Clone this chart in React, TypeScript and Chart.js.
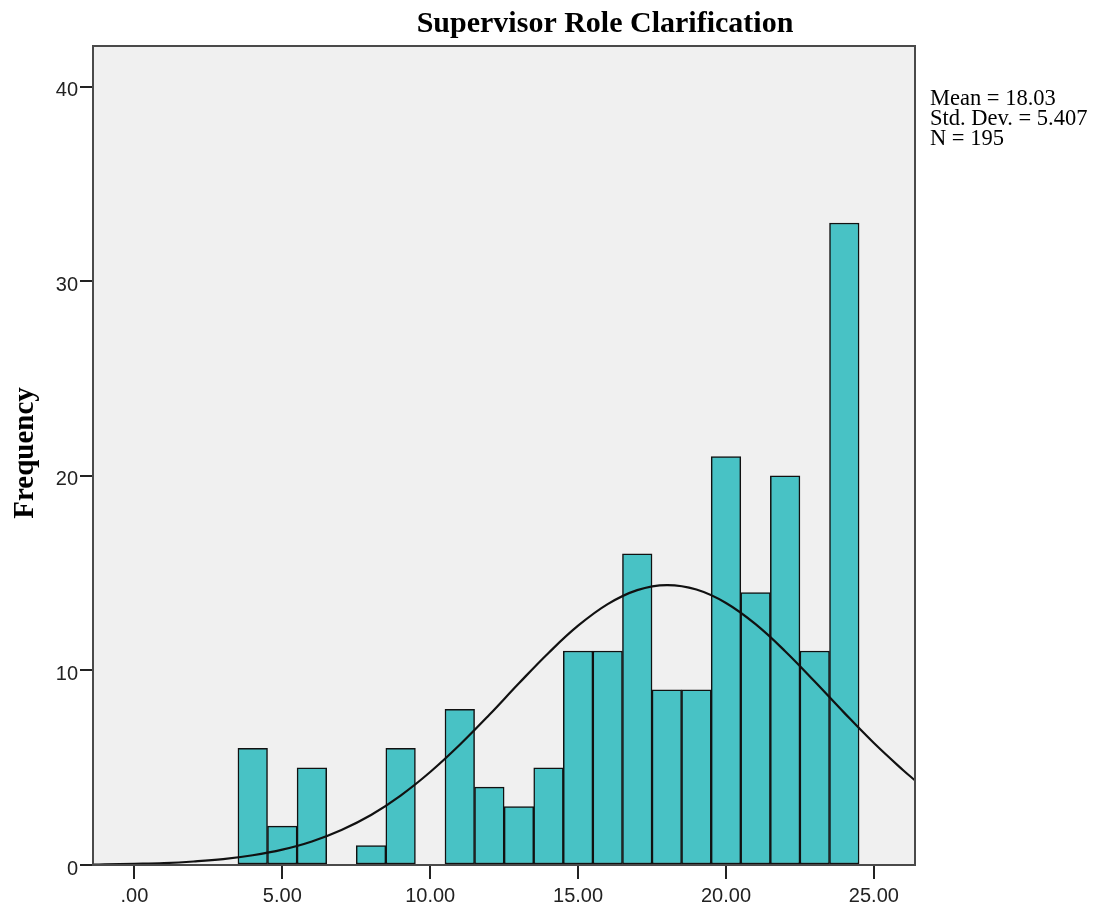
import React, { useEffect, useRef } from "react";
import { Chart, registerables } from "chart.js";

Chart.register(...registerables);

const TITLE = "Supervisor Role Clarification";
const Y_LABEL = "Frequency";
const STATS_LINES = ["Mean = 18.03", "Std. Dev. = 5.407", "N = 195"];

// Histogram bins (bin centres) and counts
const BIN_CENTERS = [4, 5, 6, 7, 8, 9, 10, 11, 12, 13, 14, 15, 16, 17, 18, 19, 20, 21, 22, 23, 24];
const BIN_COUNTS = [6, 2, 5, 0, 1, 6, 0, 8, 4, 3, 5, 11, 11, 16, 9, 9, 21, 14, 20, 11, 33];

// Normal curve points
const CURVE_X = [-1.4, -1, 0, 1, 2, 3, 4, 5, 6, 7, 8, 9, 10, 11, 12, 13, 14, 15, 16, 17, 18, 19, 20, 21, 22, 23, 24, 25, 26, 26.39];
const CURVE_Y = [0.02, 0.03, 0.06, 0.1, 0.18, 0.3, 0.5, 0.79, 1.21, 1.8, 2.57, 3.57, 4.78, 6.18, 7.72, 9.34, 10.9, 12.3, 13.41, 14.13, 14.39, 14.16, 13.47, 12.38, 10.99, 9.43, 7.82, 6.27, 4.86, 4.35];

const X_TICKS = [0, 5, 10, 15, 20, 25];
const Y_TICKS = [0, 10, 20, 30, 40];
const X_MIN = -1.4;
const X_MAX = 26.39;
const Y_MIN = 0;
const Y_MAX = 42.1;

const decorPlugin = {
  id: "decor",
  beforeDraw(chart: any) {
    const { ctx, chartArea: a, width, height } = chart;
    ctx.save();
    ctx.fillStyle = "#ffffff";
    ctx.fillRect(0, 0, width, height);
    ctx.fillStyle = "#f0f0f0";
    ctx.fillRect(a.left, a.top, a.right - a.left, a.bottom - a.top);
    ctx.restore();
  },
  afterDatasetsDraw(chart: any) {
    const { ctx, chartArea: a } = chart;
    ctx.save();
    ctx.strokeStyle = "#4a4a4a";
    ctx.lineWidth = 2;
    ctx.strokeRect(a.left, a.top, a.right - a.left, a.bottom - a.top);
    ctx.restore();
  },
  afterDraw(chart: any) {
    const { ctx, chartArea: a } = chart;
    ctx.save();
    ctx.fillStyle = "#000";
    // Title
    ctx.font = "bold 30px 'Liberation Serif', serif";
    ctx.textAlign = "center";
    ctx.textBaseline = "alphabetic";
    ctx.fillText(TITLE, a.left + 512, 32);
    // Y label
    ctx.save();
    ctx.translate(33, 453);
    ctx.rotate(-Math.PI / 2);
    ctx.font = "bold 29px 'Liberation Serif', serif";
    ctx.textAlign = "center";
    ctx.fillText(Y_LABEL, 0, 0);
    ctx.restore();
    // Stats
    ctx.font = "22.5px 'Liberation Serif', serif";
    ctx.textAlign = "left";
    STATS_LINES.forEach((s, i) => {
      ctx.fillText(s, a.right + 15, 105 + i * 20);
    });
    ctx.restore();
  },
};

export default function App() {
  const ref = useRef<HTMLCanvasElement | null>(null);
  useEffect(() => {
    if (!ref.current) return;
    const chart = new Chart(ref.current, {
      type: "bar",
      data: {
        datasets: [
          {
            type: "line",
            data: CURVE_X.map((x, i) => ({ x, y: CURVE_Y[i] })),
            borderColor: "#111",
            borderWidth: 2.2,
            pointRadius: 0,
            tension: 0.4,
            fill: false,
            order: 0,
          } as any,
          {
            type: "bar",
            data: BIN_CENTERS.map((x, i) => ({ x, y: BIN_COUNTS[i] })),
            backgroundColor: "#48c2c5",
            borderColor: "#111",
            borderWidth: 1.5,
            borderSkipped: false,
            barPercentage: 1,
            categoryPercentage: 1,
            order: 1,
          } as any,
        ],
      },
      options: {
        animation: false,
        responsive: false,
        maintainAspectRatio: false,
        layout: { padding: { top: 46, right: 182, left: 0, bottom: 0 } },
        plugins: { legend: { display: false }, tooltip: { enabled: false }, title: { display: false } },
        scales: {
          x: {
            type: "linear",
            min: X_MIN,
            max: X_MAX,
            offset: false,
            afterBuildTicks: (s: any) => {
              s.ticks = X_TICKS.map((v) => ({ value: v }));
            },
            afterFit: (s: any) => {
              s.height = 44;
            },
            grid: { display: true, offset: false, drawOnChartArea: false, drawTicks: true, tickLength: 14, color: "#222", lineWidth: 2 },
            border: { display: false },
            ticks: {
              padding: 5,
              color: "#222",
              font: { family: "'Liberation Sans', Arial, sans-serif", size: 20 },
              maxRotation: 0,
              autoSkip: false,
              callback: (v: any) => (Number(v) === 0 ? ".00" : Number(v).toFixed(2)),
            },
          },
          y: {
            type: "linear",
            min: Y_MIN,
            max: Y_MAX,
            afterBuildTicks: (s: any) => {
              s.ticks = Y_TICKS.map((v) => ({ value: v }));
            },
            afterFit: (s: any) => {
              s.width = 93;
            },
            grid: { display: true, offset: false, drawOnChartArea: false, drawTicks: true, tickLength: 13, color: "#222", lineWidth: 2 },
            border: { display: false },
            ticks: {
              padding: 2,
              labelOffset: 4,
              color: "#222",
              font: { family: "'Liberation Sans', Arial, sans-serif", size: 20 },
              callback: (v: any) => String(v),
            },
          },
        },
      },
      plugins: [decorPlugin],
    });
    return () => chart.destroy();
  }, []);
  return (
    <div style={{ position: "absolute", left: 0, top: 0, width: 1097, height: 909, background: "#fff" }}>
      <canvas ref={ref} width={1097} height={909} style={{ width: 1097, height: 909, display: "block" }} />
    </div>
  );
}
